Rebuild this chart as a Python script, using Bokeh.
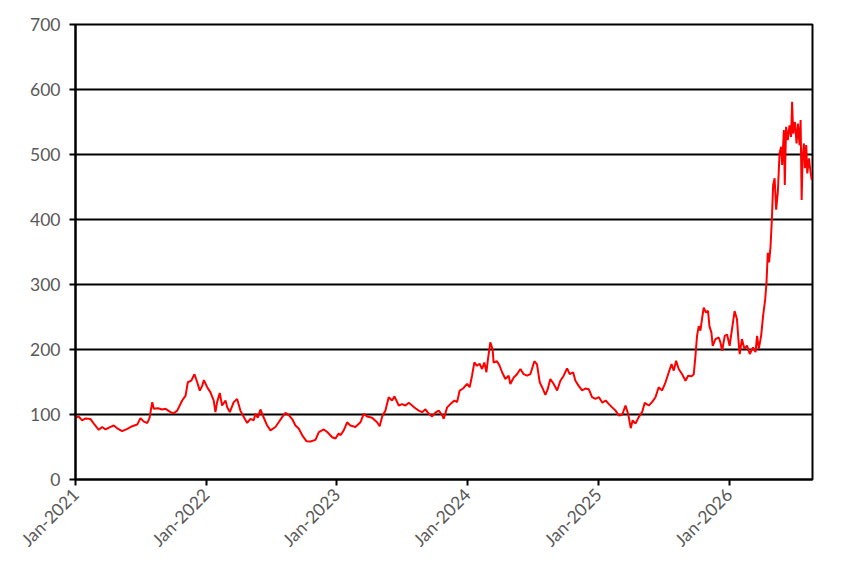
import datetime as dt
import math
from bokeh.plotting import figure
from bokeh.models import FixedTicker, DatetimeTickFormatter, Range1d, ColumnDataSource
from bokeh.embed import file_html
from bokeh.resources import INLINE

# decimal-year positions
years = [2021.000, 2021.023, 2021.051, 2021.077, 2021.115, 2021.140, 2021.178, 2021.204, 2021.230, 2021.268,
         2021.293, 2021.319, 2021.357, 2021.396, 2021.434, 2021.472, 2021.497, 2021.523, 2021.549, 2021.566,
         2021.587, 2021.599, 2021.630, 2021.663, 2021.689, 2021.727, 2021.752, 2021.778, 2021.816, 2021.842,
         2021.859, 2021.885, 2021.910, 2021.931, 2021.951, 2021.969, 2021.982, 2022.008, 2022.033, 2022.058,
         2022.071, 2022.084, 2022.104, 2022.122, 2022.148, 2022.161, 2022.181, 2022.211, 2022.237, 2022.262,
         2022.288, 2022.314, 2022.339, 2022.364, 2022.377, 2022.395, 2022.415, 2022.441, 2022.467, 2022.492,
         2022.530, 2022.555, 2022.581, 2022.607, 2022.632, 2022.658, 2022.683, 2022.708, 2022.735, 2022.767,
         2022.798, 2022.836, 2022.862, 2022.900, 2022.926, 2022.964, 2022.989, 2023.015, 2023.028, 2023.053,
         2023.079, 2023.104, 2023.142, 2023.181, 2023.206, 2023.232, 2023.270, 2023.308, 2023.328, 2023.347,
         2023.372, 2023.397, 2023.423, 2023.441, 2023.474, 2023.500, 2023.525, 2023.550, 2023.576, 2023.601,
         2023.627, 2023.653, 2023.678, 2023.703, 2023.729, 2023.754, 2023.780, 2023.806, 2023.818, 2023.844,
         2023.869, 2023.900, 2023.920, 2023.940, 2023.966, 2023.997, 2024.017, 2024.035, 2024.053, 2024.073,
         2024.093, 2024.112, 2024.129, 2024.145, 2024.155, 2024.175, 2024.193, 2024.200, 2024.226, 2024.246,
         2024.265, 2024.290, 2024.315, 2024.328, 2024.354, 2024.379, 2024.405, 2024.430, 2024.456, 2024.481,
         2024.512, 2024.532, 2024.553, 2024.578, 2024.596, 2024.614, 2024.634, 2024.660, 2024.686, 2024.711,
         2024.736, 2024.762, 2024.782, 2024.808, 2024.826, 2024.851, 2024.877, 2024.902, 2024.928, 2024.953,
         2024.979, 2025.004, 2025.030, 2025.055, 2025.080, 2025.105, 2025.131, 2025.156, 2025.181, 2025.207,
         2025.227, 2025.247, 2025.262, 2025.283, 2025.308, 2025.334, 2025.354, 2025.385, 2025.410, 2025.436,
         2025.461, 2025.487, 2025.513, 2025.538, 2025.559, 2025.576, 2025.594, 2025.614, 2025.640, 2025.666,
         2025.686, 2025.712, 2025.729, 2025.742, 2025.754, 2025.767, 2025.780, 2025.792, 2025.805, 2025.823,
         2025.838, 2025.849, 2025.864, 2025.874, 2025.895, 2025.920, 2025.933, 2025.946, 2025.966, 2025.984,
         2026.004, 2026.022, 2026.042, 2026.060, 2026.073, 2026.081, 2026.098, 2026.117, 2026.137, 2026.158,
         2026.183, 2026.202, 2026.214, 2026.227, 2026.245, 2026.260, 2026.276, 2026.286, 2026.296, 2026.306,
         2026.317, 2026.327, 2026.337, 2026.348, 2026.360, 2026.373, 2026.386, 2026.398, 2026.406, 2026.419,
         2026.426, 2026.436, 2026.449, 2026.462, 2026.474, 2026.482, 2026.490, 2026.503, 2026.516, 2026.526,
         2026.539, 2026.547, 2026.555, 2026.562, 2026.572, 2026.580, 2026.590, 2026.598, 2026.611, 2026.618,
         2026.632]

prices = [95, 97, 91, 94, 93, 86, 76.5, 80.7, 77, 81,
          83, 78.8, 74.5, 78, 82, 84.5, 94.5, 89, 87, 94.5,
          119, 108.7, 109.7, 107.6, 108.7, 103.6, 102, 106, 121.5, 129,
          149.6, 152, 162, 149.6, 136.8, 144, 153, 142, 134, 121.5,
          103.7, 119, 133, 113.8, 121.5, 111, 103.7, 119, 124, 106,
          96, 87, 93.4, 91, 101, 95, 107.7, 95, 83, 75.5,
          80.7, 88, 96, 102.6, 99, 93, 83, 78.4, 68, 59,
          58.5, 61, 73, 77, 73, 65, 63, 71, 68, 75.5,
          88, 83, 80.7, 88, 101, 97, 95, 88, 82, 97,
          106, 126.6, 121.5, 128, 113.8, 116, 113.8, 118, 113.8, 109.7,
          106, 103.6, 108, 101.5, 97, 103, 106, 99, 93.4, 111,
          116, 121.5, 119, 136.8, 140, 147, 142, 159.7, 180, 175,
          178, 170, 180, 165, 182, 210.9, 200, 180, 182, 175,
          165, 154.7, 159.7, 147, 157, 162, 170, 162, 159.7, 162,
          182, 177, 149.6, 139, 130, 139, 154.7, 147, 137, 152,
          159.7, 171, 162, 165, 152, 144, 137, 140, 139, 126.6,
          124, 126.6, 118, 121.5, 116, 111, 106, 98.5, 99.5, 113.8,
          101, 79, 91, 86, 96, 103.6, 118, 113.8, 119, 126.6,
          142, 137, 149.6, 165, 177.6, 167.6, 182.7, 170, 162, 152,
          159.7, 158.7, 162, 190, 221, 236, 229, 246.6, 264.5, 257,
          259.5, 236, 226, 205.7, 216, 218.5, 211, 198, 221, 223,
          205.7, 231, 259, 247, 211, 193, 216, 201, 206, 193,
          203, 196, 221, 201, 221, 251.6, 277, 302.7, 348.7, 334,
          358.8, 400, 453, 463.5, 415, 443, 501.7, 512, 484, 537.5,
          453, 542.6, 522, 545, 527, 581, 532, 550, 517, 547.5,
          514.5, 553, 430, 494, 517, 479, 514.5, 471, 494, 481,
          461]

y_ticks = [0, 100, 200, 300, 400, 500, 600, 700]
x_tick_years = [2021, 2022, 2023, 2024, 2025, 2026]


def to_date(y):
    base = dt.datetime(int(y), 1, 1)
    return base + dt.timedelta(days=(y - int(y)) * 365.25)


dates = [to_date(y) for y in years]
src = ColumnDataSource(dict(date=dates, price=prices))

epoch = dt.datetime(1970, 1, 1)
tick_ms = [(dt.datetime(y, 1, 1) - epoch).total_seconds() * 1000 for y in x_tick_years]

p = figure(width=838, height=560, x_axis_type="datetime",
           output_backend="svg", toolbar_location=None,
           min_border_left=75, min_border_right=26, min_border_top=24, min_border_bottom=79)
p.x_range = Range1d(dt.datetime(2021, 1, 1), dt.datetime(2026, 8, 22))
p.y_range = Range1d(0, 700)

p.line("date", "price", source=src, line_color="#FF0000", line_width=2)

font = "Lato"
for ax in (p.xaxis[0], p.yaxis[0]):
    ax.axis_line_color = "black"
    ax.axis_line_width = 2
    ax.major_tick_line_color = "black"
    ax.major_tick_line_width = 2
    ax.major_tick_out = 6
    ax.major_tick_in = 0
    ax.minor_tick_line_color = None
    ax.major_label_text_font = font
    ax.major_label_text_font_size = "17.5px"
    ax.major_label_text_color = "#595959"

p.yaxis.ticker = FixedTicker(ticks=y_ticks)
p.xaxis.ticker = FixedTicker(ticks=tick_ms)
fmt = "%b-%Y"
p.xaxis.formatter = DatetimeTickFormatter(days=fmt, months=fmt, years=fmt, hours=fmt,
                                          minutes=fmt, seconds=fmt, milliseconds=fmt,
                                          microseconds=fmt, minsec=fmt, hourmin=fmt)
p.xaxis.major_label_orientation = math.pi / 4
p.xaxis.major_label_standoff = 6
p.yaxis.major_label_standoff = 9

p.xgrid.grid_line_color = None
p.ygrid.grid_line_color = "black"
p.ygrid.grid_line_width = 2
p.outline_line_color = "black"
p.outline_line_width = 2
p.background_fill_color = "white"
p.border_fill_color = "white"

open("out.html", "w").write(file_html(p, INLINE))
